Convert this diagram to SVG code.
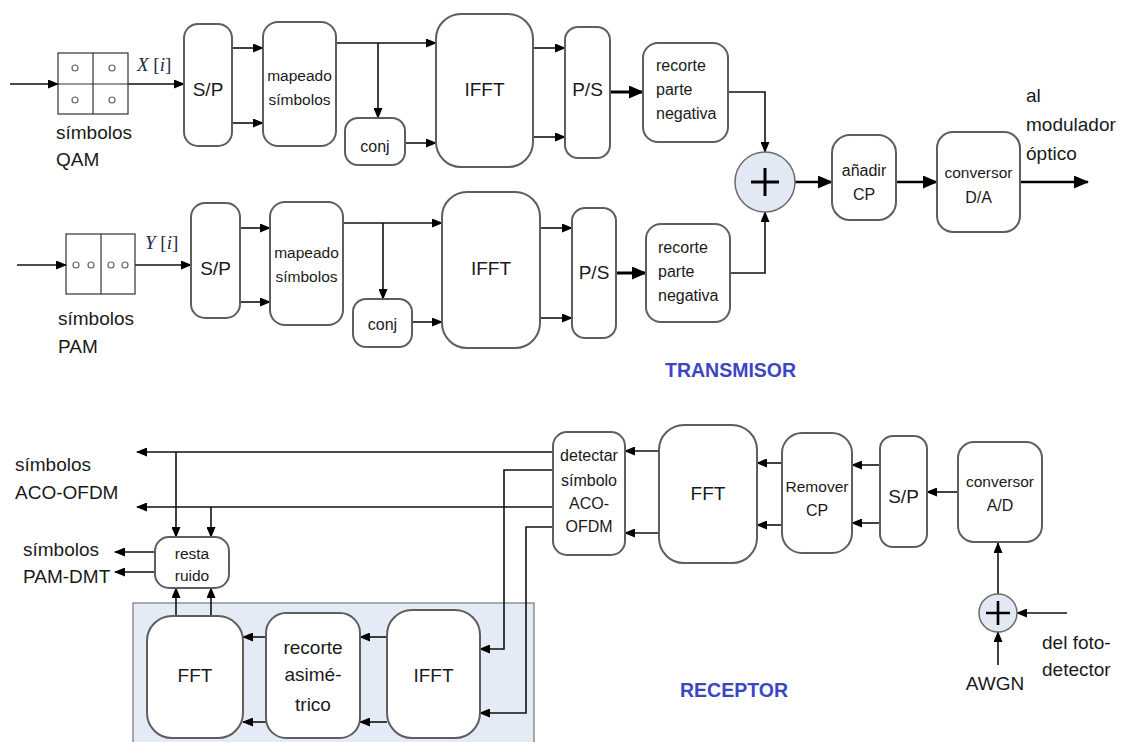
<svg xmlns="http://www.w3.org/2000/svg" width="1123" height="742" viewBox="0 0 1123 742">
<defs>
<marker id="ah" markerWidth="11" markerHeight="9" refX="10" refY="4.5" orient="auto" markerUnits="userSpaceOnUse"><path d="M0,0 L11,4.5 L0,9 z" fill="#000"/></marker>
<marker id="ahb" markerWidth="15" markerHeight="13" refX="14" refY="6.5" orient="auto" markerUnits="userSpaceOnUse"><path d="M0,0 L15,6.5 L0,13 z" fill="#000"/></marker>
<style>
.box{fill:#fff;stroke:#5e5e5e;stroke-width:2}
.ln{fill:none;stroke:#111;stroke-width:1.6}
.thk{fill:none;stroke:#000;stroke-width:3}
.med{fill:none;stroke:#000;stroke-width:2.4}
.t{font-family:"Liberation Sans",Arial,sans-serif;fill:#1a1a1a}
.c{text-anchor:middle}
.s14{font-size:15.5px}
.s15{font-size:15.5px}
.s16{font-size:16px}
.s19{font-size:19px}
.ttl{font-family:"Liberation Sans",Arial,sans-serif;font-weight:bold;font-size:19.5px;fill:#3b46c4}
.math{font-family:"Liberation Serif","Times New Roman",serif;font-size:19px;fill:#1f2a4a}
.sum{fill:#e2e9f5;stroke:#6a6a6a;stroke-width:1.5}
.cell{fill:none;stroke:#333;stroke-width:1.2}
.dot{fill:#fff;stroke:#666;stroke-width:1.2}
</style>
</defs>

<!-- shaded region -->
<rect x="133" y="603" width="401" height="150" fill="#e5ebf6" stroke="#777" stroke-width="1.2"/>

<g id="connectors">
<line class="ln" x1="10" y1="84" x2="58" y2="84" marker-end="url(#ah)"/>
<line class="ln" x1="128" y1="84" x2="184" y2="84" marker-end="url(#ah)"/>
<line class="ln" x1="232" y1="48" x2="263" y2="48" marker-end="url(#ah)"/>
<line class="ln" x1="232" y1="123" x2="263" y2="123" marker-end="url(#ah)"/>
<line class="ln" x1="336" y1="43" x2="436" y2="43" marker-end="url(#ah)"/>
<line class="ln" x1="378" y1="43" x2="378" y2="118" marker-end="url(#ah)"/>
<line class="ln" x1="405" y1="143" x2="436" y2="143" marker-end="url(#ah)"/>
<line class="ln" x1="533" y1="48" x2="565" y2="48" marker-end="url(#ah)"/>
<line class="ln" x1="533" y1="137" x2="565" y2="137" marker-end="url(#ah)"/>
<line class="thk" x1="610" y1="92" x2="643" y2="92" marker-end="url(#ahb)"/>
<polyline class="ln" points="728,92 765,92 765,152" marker-end="url(#ah)"/>
<line class="ln" x1="17" y1="265" x2="66" y2="265" marker-end="url(#ah)"/>
<line class="ln" x1="135" y1="265" x2="191" y2="265" marker-end="url(#ah)"/>
<line class="ln" x1="240" y1="228" x2="270" y2="228" marker-end="url(#ah)"/>
<line class="ln" x1="240" y1="302" x2="270" y2="302" marker-end="url(#ah)"/>
<line class="ln" x1="343" y1="223" x2="442" y2="223" marker-end="url(#ah)"/>
<line class="ln" x1="383" y1="223" x2="383" y2="299" marker-end="url(#ah)"/>
<line class="ln" x1="412" y1="322" x2="442" y2="322" marker-end="url(#ah)"/>
<line class="ln" x1="540" y1="228" x2="572" y2="228" marker-end="url(#ah)"/>
<line class="ln" x1="540" y1="318" x2="572" y2="318" marker-end="url(#ah)"/>
<line class="thk" x1="616" y1="273" x2="646" y2="273" marker-end="url(#ahb)"/>
<polyline class="ln" points="730,273 765,273 765,212" marker-end="url(#ah)"/>
<line class="med" x1="795" y1="182" x2="832" y2="182" marker-end="url(#ahb)"/>
<line class="med" x1="896" y1="182" x2="937" y2="182" marker-end="url(#ahb)"/>
<line class="med" x1="1020" y1="182" x2="1088" y2="182" marker-end="url(#ahb)"/>

<line class="ln" x1="998" y1="665" x2="998" y2="632" marker-end="url(#ah)"/>
<line class="ln" x1="1067" y1="613" x2="1017" y2="613" marker-end="url(#ah)"/>
<line class="ln" x1="998" y1="594" x2="998" y2="543" marker-end="url(#ah)"/>
<line class="ln" x1="958" y1="492" x2="927" y2="492" marker-end="url(#ah)"/>
<line class="ln" x1="880" y1="465" x2="852" y2="465" marker-end="url(#ah)"/>
<line class="ln" x1="880" y1="523" x2="852" y2="523" marker-end="url(#ah)"/>
<line class="ln" x1="782" y1="463" x2="757" y2="463" marker-end="url(#ah)"/>
<line class="ln" x1="782" y1="525" x2="757" y2="525" marker-end="url(#ah)"/>
<line class="ln" x1="659" y1="451" x2="625" y2="451" marker-end="url(#ah)"/>
<line class="ln" x1="659" y1="533" x2="625" y2="533" marker-end="url(#ah)"/>
<line class="ln" x1="553" y1="452" x2="137" y2="452" marker-end="url(#ah)"/>
<line class="ln" x1="553" y1="507" x2="137" y2="507" marker-end="url(#ah)"/>
<line class="ln" x1="176" y1="452" x2="176" y2="537" marker-end="url(#ah)"/>
<line class="ln" x1="211" y1="507" x2="211" y2="537" marker-end="url(#ah)"/>
<polyline class="ln" points="553,470 504,470 504,649 480,649" marker-end="url(#ah)"/>
<polyline class="ln" points="553,527 526,527 526,713 480,713" marker-end="url(#ah)"/>
<line class="ln" x1="387" y1="637" x2="360" y2="637" marker-end="url(#ah)"/>
<line class="ln" x1="387" y1="722" x2="360" y2="722" marker-end="url(#ah)"/>
<line class="ln" x1="266" y1="637" x2="243" y2="637" marker-end="url(#ah)"/>
<line class="ln" x1="266" y1="722" x2="243" y2="722" marker-end="url(#ah)"/>
<line class="ln" x1="176" y1="616" x2="176" y2="588" marker-end="url(#ah)"/>
<line class="ln" x1="211" y1="616" x2="211" y2="588" marker-end="url(#ah)"/>
<line class="ln" x1="155" y1="552" x2="115" y2="552" marker-end="url(#ah)"/>
<line class="ln" x1="155" y1="572" x2="115" y2="572" marker-end="url(#ah)"/>
</g>

<g id="qam">
<rect class="cell" x="58" y="53" width="70" height="61"/>
<line class="cell" x1="93" y1="53" x2="93" y2="114"/>
<line class="cell" x1="58" y1="84" x2="128" y2="84"/>
<circle class="dot" cx="75" cy="68" r="3"/>
<circle class="dot" cx="112" cy="68" r="3"/>
<circle class="dot" cx="75" cy="100" r="3"/>
<circle class="dot" cx="112" cy="100" r="3"/>
<text class="math" x="137" y="71"><tspan font-style="italic">X</tspan> [<tspan font-style="italic">i</tspan>]</text>
<text class="t s19" x="56" y="139">símbolos</text>
<text class="t s19" x="56" y="166">QAM</text>
</g>

<g id="pam">
<rect class="cell" x="66" y="234" width="69" height="60"/>
<line class="cell" x1="101" y1="234" x2="101" y2="294"/>
<circle class="dot" cx="76" cy="265" r="3"/>
<circle class="dot" cx="91" cy="265" r="3"/>
<circle class="dot" cx="111" cy="265" r="3"/>
<circle class="dot" cx="125" cy="265" r="3"/>
<text class="math" x="145" y="249"><tspan font-style="italic">Y</tspan> [<tspan font-style="italic">i</tspan>]</text>
<text class="t s19" x="58" y="325">símbolos</text>
<text class="t s19" x="58" y="353">PAM</text>
</g>

<g id="sp1"><rect class="box" x="184" y="24" width="48" height="122" rx="14"/><text class="t c s19" x="208" y="96">S/P</text></g>
<g id="map1"><rect class="box" x="263" y="22" width="73" height="124" rx="15"/><text class="t c s14" x="299.5" y="81">mapeado</text><text class="t c s14" x="299.5" y="105">símbolos</text></g>
<g id="conj1"><rect class="box" x="345" y="118" width="60" height="47" rx="13"/><text class="t c s16" x="375" y="152">conj</text></g>
<g id="ifft1"><rect class="box" x="436" y="14" width="97" height="153" rx="25"/><text class="t c s19" x="484.5" y="96">IFFT</text></g>
<g id="ps1"><rect class="box" x="565" y="27" width="45" height="131" rx="13"/><text class="t c s19" x="587.5" y="96">P/S</text></g>
<g id="rec1"><rect class="box" x="643" y="43" width="85" height="99" rx="15"/><text class="t s16" x="656" y="71">recorte</text><text class="t s16" x="656" y="95">parte</text><text class="t s16" x="656" y="119">negativa</text></g>

<g id="sp2"><rect class="box" x="191" y="203" width="49" height="115" rx="14"/><text class="t c s19" x="215.5" y="275">S/P</text></g>
<g id="map2"><rect class="box" x="270" y="202" width="73" height="123" rx="15"/><text class="t c s14" x="306.5" y="258">mapeado</text><text class="t c s14" x="306.5" y="282">símbolos</text></g>
<g id="conj2"><rect class="box" x="353" y="299" width="59" height="48" rx="13"/><text class="t c s16" x="382.5" y="330">conj</text></g>
<g id="ifft2"><rect class="box" x="442" y="192" width="98" height="156" rx="25"/><text class="t c s19" x="491" y="275">IFFT</text></g>
<g id="ps2"><rect class="box" x="572" y="208" width="44" height="130" rx="13"/><text class="t c s19" x="594" y="279">P/S</text></g>
<g id="rec2"><rect class="box" x="646" y="224" width="84" height="98" rx="15"/><text class="t s16" x="658" y="253">recorte</text><text class="t s16" x="658" y="277">parte</text><text class="t s16" x="658" y="301">negativa</text></g>

<g id="sum1"><circle class="sum" cx="765" cy="182" r="30"/><path d="M751,182 H779 M765,168 V196" stroke="#000" stroke-width="3"/></g>
<g id="cp"><rect class="box" x="832" y="135" width="64" height="85" rx="18"/><text class="t c s16" x="864" y="176">añadir</text><text class="t c s16" x="864" y="200">CP</text></g>
<g id="da"><rect class="box" x="937" y="132" width="83" height="100" rx="16"/><text class="t c s15" x="978.5" y="178">conversor</text><text class="t c s16" x="978.5" y="203">D/A</text></g>
<g id="out"><text class="t s19" x="1026" y="102">al</text><text class="t s19" x="1026" y="131">modulador</text><text class="t s19" x="1026" y="160">óptico</text></g>
<text class="ttl" x="665" y="377">TRANSMISOR</text>

<g id="ad"><rect class="box" x="958" y="442" width="84" height="100" rx="16"/><text class="t c s15" x="1000" y="487">conversor</text><text class="t c s16" x="1000" y="511">A/D</text></g>
<g id="sum2"><circle class="sum" cx="998" cy="613" r="19"/><path d="M986,613 H1010 M998,601 V625" stroke="#000" stroke-width="2.6"/></g>
<g id="inlbl"><text class="t c s19" x="995" y="690">AWGN</text><text class="t s19" x="1042" y="649">del foto-</text><text class="t s19" x="1042" y="676">detector</text></g>
<g id="spr"><rect class="box" x="880" y="436" width="47" height="111" rx="13"/><text class="t c s19" x="903.5" y="503">S/P</text></g>
<g id="remcp"><rect class="box" x="782" y="433" width="70" height="120" rx="20"/><text class="t c s15" x="817" y="492">Remover</text><text class="t c s16" x="817" y="516">CP</text></g>
<g id="fftr"><rect class="box" x="659" y="425" width="98" height="138" rx="25"/><text class="t c s19" x="708" y="500">FFT</text></g>
<g id="det"><rect class="box" x="553" y="432" width="72" height="123" rx="14"/><text class="t c s16" x="589" y="461">detectar</text><text class="t c s16" x="589" y="486">símbolo</text><text class="t c s16" x="589" y="509">ACO-</text><text class="t c s16" x="589" y="532">OFDM</text></g>
<g id="resta"><rect class="box" x="155" y="537" width="74" height="51" rx="14"/><text class="t c s15" x="192" y="559">resta</text><text class="t c s15" x="192" y="581">ruido</text></g>
<g id="ifftb"><rect class="box" x="387" y="610" width="93" height="128" rx="25"/><text class="t c s19" x="433.5" y="682">IFFT</text></g>
<g id="recb"><rect class="box" x="266" y="613" width="94" height="125" rx="20"/><text class="t c s19" x="313" y="654">recorte</text><text class="t c s19" x="313" y="681">asimé-</text><text class="t c s19" x="313" y="711">trico</text></g>
<g id="fftb"><rect class="box" x="147" y="616" width="96" height="122" rx="25"/><text class="t c s19" x="195" y="682">FFT</text></g>
<g id="outlbl"><text class="t s19" x="15" y="471">símbolos</text><text class="t s19" x="15" y="499">ACO-OFDM</text><text class="t s19" x="23" y="556">símbolos</text><text class="t s19" x="23" y="583">PAM-DMT</text></g>
<text class="ttl" x="680" y="697">RECEPTOR</text>
</svg>
